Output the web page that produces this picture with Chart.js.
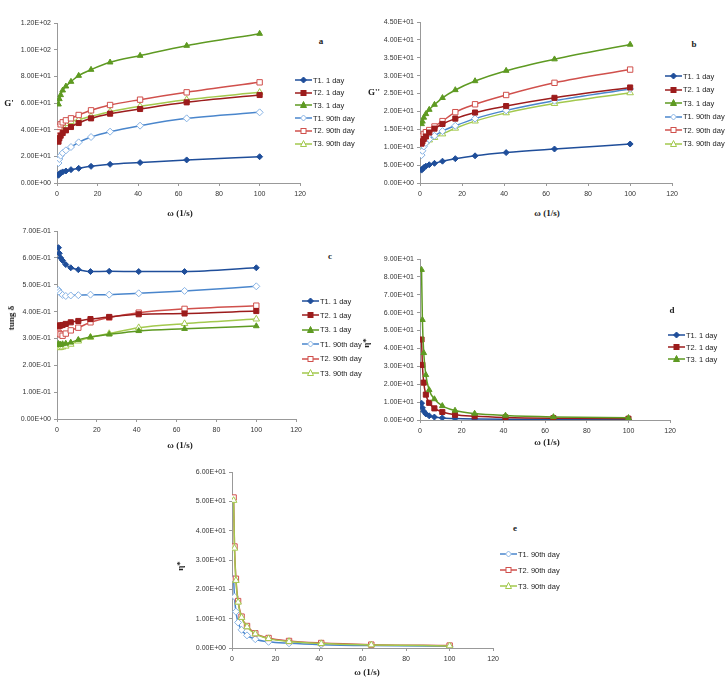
<!DOCTYPE html>
<html>
<head>
<meta charset="utf-8">
<script src="https://cdn.jsdelivr.net/npm/chart.js@4.4.1/dist/chart.umd.min.js"></script>
<style>
  body { margin:0; background:#fff; width:728px; height:682px; position:relative; overflow:hidden; }
  canvas { position:absolute; }
  .t { position:absolute; font-family:"Liberation Serif", serif; font-weight:bold; font-size:9px; color:#222; white-space:nowrap; }
  .rot { transform:translate(-50%,-50%) rotate(-90deg); }
  .leg { position:absolute; font-family:"Liberation Sans", Arial, sans-serif; font-size:7.5px; color:#222; }
  .leg div { position:absolute; white-space:nowrap; display:flex; align-items:center; }
  .leg svg { margin-right:1px; }
</style>
</head>
<body>
<canvas id="ca"></canvas>
<canvas id="cb"></canvas>
<canvas id="cc"></canvas>
<canvas id="cd"></canvas>
<canvas id="ce"></canvas>
<script>
// angular frequency (1/s)
var omega = [0.74, 1.15, 1.8, 2.8, 4.4, 6.9, 10.7, 16.8, 26.2, 41, 64, 100];

// a - G'
var gp_T1_1 = [5.8, 6.8, 7.6, 8.3, 9, 10, 11, 12.5, 14, 15.3, 17.3, 19.7];
var gp_T2_1 = [31, 33.5, 35.5, 37.5, 39.5, 42, 45, 48.5, 52, 55.5, 60.5, 66];
var gp_T3_1 = [59, 63, 66, 69.5, 72.5, 76, 80.5, 85, 90.5, 95.5, 103, 112];
var gp_T1_90 = [15, 18, 20.5, 22.5, 24.5, 27, 30.5, 34.5, 38.5, 43, 48.5, 53];
var gp_T2_90 = [39.5, 42, 44, 45.5, 47, 48.5, 51, 54.5, 58.5, 62.5, 68, 75.5];
var gp_T3_90 = [37, 39.5, 41.5, 43, 44.5, 46, 47.5, 50, 53.5, 57.5, 62.5, 68];

// b - G''
var gpp_T1_1 = [3.6, 3.9, 4.3, 4.7, 5.1, 5.5, 6.1, 6.8, 7.6, 8.5, 9.5, 10.9];
var gpp_T2_1 = [11, 11.6, 12.3, 13, 14.1, 15.2, 16.5, 18, 19.7, 21.5, 23.8, 26.7];
var gpp_T3_1 = [16.5, 17.2, 18.3, 19.3, 20.5, 21.9, 23.8, 26, 28.5, 31.4, 34.6, 38.7];
var gpp_T1_90 = [7.8, 9, 10.2, 11.2, 12.2, 13.2, 14.5, 16, 18, 20.3, 23, 26.3];
var gpp_T2_90 = [12.2, 13, 13.7, 14.2, 14.8, 15.8, 17.3, 19.8, 22, 24.6, 28, 31.7];
var gpp_T3_90 = [9.5, 10.3, 11, 11.5, 12, 12.7, 13.7, 15.3, 17.3, 19.6, 22.2, 25.2];

// c - tan delta
var tan_T1_1 = [0.638, 0.617, 0.6, 0.59, 0.575, 0.563, 0.556, 0.549, 0.55, 0.549, 0.549, 0.563];
var tan_T2_1 = [0.348, 0.347, 0.348, 0.35, 0.354, 0.36, 0.365, 0.372, 0.38, 0.39, 0.393, 0.402];
var tan_T3_1 = [0.28, 0.276, 0.277, 0.279, 0.281, 0.285, 0.295, 0.305, 0.315, 0.328, 0.336, 0.346];
var tan_T1_90 = [0.48, 0.474, 0.468, 0.462, 0.458, 0.46, 0.461, 0.463, 0.463, 0.468, 0.477, 0.494];
var tan_T2_90 = [0.322, 0.318, 0.315, 0.31, 0.318, 0.33, 0.34, 0.36, 0.378, 0.396, 0.41, 0.422];
var tan_T3_90 = [0.268, 0.265, 0.266, 0.268, 0.271, 0.278, 0.29, 0.304, 0.318, 0.34, 0.355, 0.372];

// d - eta* day 1
var eta_T1_1 = [9.4, 6.8, 4.85, 3.4, 2.34, 1.65, 1.18, 0.85, 0.61, 0.43, 0.31, 0.22];
var eta_T2_1 = [45, 30.8, 20.9, 14.2, 9.6, 6.5, 4.5, 2.9, 2.1, 1.45, 1.0, 0.71];
var eta_T3_1 = [84, 56, 37.5, 25.2, 16.8, 11.7, 7.9, 5.3, 3.6, 2.5, 1.7, 1.2];

// e - eta* day 90
var eta_T1_90 = [23.5, 17.5, 12.4, 8.7, 6.2, 4.3, 3.0, 2.1, 1.6, 1.15, 0.83, 0.6];
var eta_T2_90 = [51.3, 34.6, 23.6, 16, 10.7, 7.5, 5.0, 3.4, 2.4, 1.7, 1.15, 0.83];
var eta_T3_90 = [50.3, 34, 23, 15.6, 10.4, 7.2, 4.8, 3.2, 2.2, 1.5, 1.05, 0.72];

var S = {
  T1_1:  { label:'T1. 1 day',    line:'#1f4e9a', fill:'#1f4e9a', edge:'#1f4e9a', shape:'rectRot',  r:3 },
  T2_1:  { label:'T2. 1 day',    line:'#9c1c1c', fill:'#9c1c1c', edge:'#9c1c1c', shape:'rect',     r:3.6 },
  T3_1:  { label:'T3. 1 day',    line:'#5e9a22', fill:'#5e9a22', edge:'#5e9a22', shape:'triangle', r:3.3 },
  T1_90: { label:'T1. 90th day', line:'#4a86cc', fill:'#ffffff', edge:'#86b2e4', shape:'rectRot',  r:3.5 },
  T2_90: { label:'T2. 90th day', line:'#d0504c', fill:'#ffffff', edge:'#d0504c', shape:'rect',     r:3.8 },
  T3_90: { label:'T3. 90th day', line:'#a3c94e', fill:'#ffffff', edge:'#a3c94e', shape:'triangle', r:3.8 }
};

function sci(v) {
  if (Math.abs(v) < 1e-12) return '0.00E+00';
  var e = Math.floor(Math.log10(Math.abs(v)) + 1e-9);
  var m = v / Math.pow(10, e);
  if (m >= 9.995) { m = m / 10; e++; }
  return m.toFixed(2) + 'E' + (e < 0 ? '-' : '+') + String(Math.abs(e)).padStart(2, '0');
}

function ds(key, ys) {
  var s = S[key];
  return {
    label: s.label,
    data: omega.map(function(x, i) { return { x: x, y: ys[i] }; }),
    showLine: true,
    borderColor: s.line,
    borderWidth: 1.5,
    cubicInterpolationMode: 'monotone',
    pointStyle: s.shape,
    pointRadius: s.r,
    pointBackgroundColor: s.fill,
    pointBorderColor: s.edge,
    pointBorderWidth: 1
  };
}

var tickFont = { family: '"Liberation Sans", Arial, sans-serif', size: 7 };

function makeChart(id, box, ymax, ystep, sets) {
  var cv = document.getElementById(id);
  var w = box.x1 - box.x0 + 68, h = box.yBot - box.yTop + 28;
  cv.width = w; cv.height = h;
  cv.style.left = (box.x0 - 60) + 'px';
  cv.style.top = (box.yTop - 8) + 'px';
  new Chart(cv, {
    type: 'scatter',
    data: { datasets: sets },
    options: {
      responsive: false,
      animation: false,
      events: [],
      layout: { padding: { top: 8, right: 8, left: 0, bottom: 0 } },
      plugins: { legend: { display: false }, tooltip: { enabled: false } },
      scales: {
        x: {
          type: 'linear', min: 0, max: 120,
          ticks: { stepSize: 20, font: tickFont, color: '#333', padding: 4, maxRotation: 0 },
          grid: { drawOnChartArea: false, color: '#999', tickLength: 3 },
          border: { color: '#999' },
          afterFit: function(s) { s.height = 20; }
        },
        y: {
          min: 0, max: ymax,
          ticks: { stepSize: ystep, font: tickFont, color: '#333', padding: 3, callback: sci },
          grid: { drawOnChartArea: false, color: '#999', tickLength: 3 },
          border: { color: '#999' },
          afterFit: function(s) { s.width = 60; }
        }
      }
    }
  });
}

makeChart('ca', { x0:57, x1:302, yTop:23, yBot:183 }, 120, 20, [
  ds('T1_1', gp_T1_1), ds('T2_1', gp_T2_1), ds('T3_1', gp_T3_1),
  ds('T1_90', gp_T1_90), ds('T2_90', gp_T2_90), ds('T3_90', gp_T3_90)
]);
makeChart('cb', { x0:420, x1:674, yTop:22, yBot:183 }, 45, 5, [
  ds('T1_1', gpp_T1_1), ds('T2_1', gpp_T2_1), ds('T3_1', gpp_T3_1),
  ds('T1_90', gpp_T1_90), ds('T2_90', gpp_T2_90), ds('T3_90', gpp_T3_90)
]);
makeChart('cc', { x0:57, x1:298, yTop:231, yBot:419 }, 0.7, 0.1, [
  ds('T1_1', tan_T1_1), ds('T2_1', tan_T2_1), ds('T3_1', tan_T3_1),
  ds('T1_90', tan_T1_90), ds('T2_90', tan_T2_90), ds('T3_90', tan_T3_90)
]);
makeChart('cd', { x0:420, x1:672, yTop:259, yBot:420 }, 90, 10, [
  ds('T3_1', eta_T3_1), ds('T2_1', eta_T2_1), ds('T1_1', eta_T1_1)
]);
// green drawn on top, as in the original
makeChart('ce', { x0:232, x1:495, yTop:472, yBot:648 }, 60, 10, [
  ds('T3_90', eta_T3_90), ds('T2_90', eta_T2_90), ds('T1_90', eta_T1_90)
]);

// text labels
function text(str, x, y, rot) {
  var d = document.createElement('div');
  d.className = 't' + (rot ? ' rot' : '');
  d.textContent = str;
  d.style.left = x + 'px'; d.style.top = y + 'px';
  if (!rot) d.style.transform = 'translate(-50%,-50%)';
  document.body.appendChild(d);
}
text("G'", 9, 103);
text('a', 321, 41);
text("G''", 374, 92);
text('b', 694, 44);
text('tung δ', 11, 318, true);
text('c', 330, 256);
text('η*', 366, 343, true);
text('d', 672, 310);
text('η*', 180, 566, true);
text('e', 515, 528);
text('ω (1/s)', 180, 213);
text('ω (1/s)', 547, 213);
text('ω (1/s)', 180, 445);
text('ω (1/s)', 547, 442);
text('ω (1/s)', 367, 672);

function marker(s) {
  var c = 'fill="' + s.fill + '" stroke="' + s.edge + '" stroke-width="1"';
  if (s.shape === 'rectRot') return '<polygon points="8.5,2 11.5,5 8.5,8 5.5,5" ' + c + '/>';
  if (s.shape === 'rect') return '<rect x="6" y="2.5" width="5" height="5" ' + c + '/>';
  return '<polygon points="8.5,1.5 11.5,7.5 5.5,7.5" ' + c + '/>';
}

function legend(x, y, gap, keys) {
  var box = document.createElement('div');
  box.className = 'leg';
  box.style.left = x + 'px'; box.style.top = y + 'px';
  keys.forEach(function(k, i) {
    var s = S[k];
    var row = document.createElement('div');
    row.style.top = (i * gap - 5) + 'px';
    row.style.left = '0px';
    row.innerHTML = '<svg width="17" height="10"><line x1="0" y1="5" x2="17" y2="5" stroke="' + s.line +
      '" stroke-width="1.5"/>' + marker(s) + '</svg><span>' + s.label + '</span>';
    box.appendChild(row);
  });
  document.body.appendChild(box);
}
var all6 = ['T1_1', 'T2_1', 'T3_1', 'T1_90', 'T2_90', 'T3_90'];
legend(295, 80, 12.7, all6);
legend(665, 76, 13.5, all6);
legend(302, 301, 14.4, all6);
legend(668, 335, 12, ['T1_1', 'T2_1', 'T3_1']);
legend(500, 554, 16, ['T1_90', 'T2_90', 'T3_90']);
</script>
</body>
</html>
